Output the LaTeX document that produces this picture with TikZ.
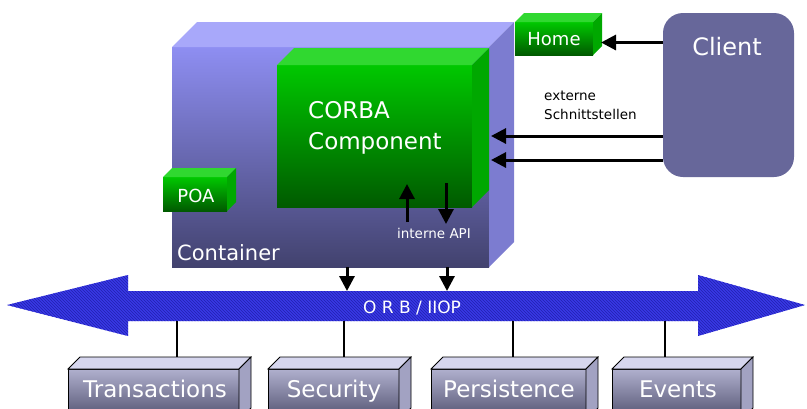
\documentclass[tikz,border=0pt]{standalone}
\usepackage{fontspec}
\setmainfont{DejaVu Sans}
\usetikzlibrary{arrows.meta,patterns}
\definecolor{contT}{HTML}{8E8EF2}
\definecolor{contB}{HTML}{42426E}
\definecolor{contTop}{HTML}{A8A8FA}
\definecolor{contSide}{HTML}{7C7CD0}
\definecolor{grT}{HTML}{00C800}
\definecolor{grB}{HTML}{005A00}
\definecolor{grTop}{HTML}{30D830}
\definecolor{grSide}{HTML}{00A800}
\definecolor{clientc}{HTML}{67679A}
\definecolor{svT}{HTML}{B0B0CE}
\definecolor{svB}{HTML}{50506E}
\definecolor{svTop}{HTML}{D6D6EE}
\definecolor{svSide}{HTML}{A2A2C2}
\definecolor{orbc}{HTML}{3838E6}
\definecolor{orbd}{HTML}{2222B0}
\newcommand\cubefaces[4]{%
  \path[#3] (#1.north west) -- ++(#2,-#2) -- ([shift={(#2,-#2)}]#1.north east) -- (#1.north east) -- cycle;
  \path[#4] (#1.north east) -- ++(#2,-#2) -- ([shift={(#2,-#2)}]#1.south east) -- (#1.south east) -- cycle;
}
\tikzset{
  front/.style={inner sep=0pt,outer sep=0pt},
  green/.style={front,top color=grT,bottom color=grB},
  svc/.style={front,top color=svT,bottom color=svB,draw=black,line width=0.8pt},
  wtxt/.style={text=white,inner sep=0pt},
  btxt/.style={text=black,inner sep=0pt},
  arr/.style={line width=3pt,-{Triangle[length=15pt,width=15pt]}},
  vline/.style={line width=2.8pt},
}
\begin{document}
\begin{tikzpicture}[x=1pt,y=-1pt]
\useasboundingbox (0,0) rectangle (807,408);
\clip (0,0) rectangle (807,408);
% ORB band
\path[fill=orbc] (7,305) -- (128,275) -- (128,291) -- (698,291) -- (698,275) -- (805,305) -- (698,336) -- (698,321) -- (128,321) -- (128,336) -- cycle;
\path[pattern=north west lines,pattern color=orbd] (7,305) -- (128,275) -- (128,291) -- (698,291) -- (698,275) -- (805,305) -- (698,336) -- (698,321) -- (128,321) -- (128,336) -- cycle;
\node[wtxt,anchor=base,font=\fontsize{17}{20}\selectfont] (orb) at (412,313) {O R B / IIOP};
\coordinate (orbtopA) at (347,291);
\coordinate (orbtopB) at (447,291);
\coordinate (orbbotA) at (177,321);
\coordinate (orbbotB) at (344,321);
\coordinate (orbbotC) at (513,321);
\coordinate (orbbotD) at (665,321);
% Container
\node[front,minimum width=317pt,minimum height=220pt,top color=contT,bottom color=contB] (cont) at (330.5,157) {};
\cubefaces{cont}{25}{fill=contTop}{fill=contSide}
\node[wtxt,anchor=base west,font=\fontsize{21}{24}\selectfont] (contlbl) at (177,260) {Container};
% Component
\node[green,minimum width=195pt,minimum height=142pt] (comp) at (374.5,136) {};
\cubefaces{comp}{17}{fill=grTop}{fill=grSide}
\node[wtxt,anchor=base west,font=\fontsize{23}{27}\selectfont] (corba) at (308,118) {CORBA};
\node[wtxt,anchor=base west,font=\fontsize{23}{27}\selectfont] (compo) at (308,149) {Component};
% POA
\node[green,minimum width=64pt,minimum height=34pt] (poa) at (195,194) {};
\cubefaces{poa}{9}{fill=grTop}{fill=grSide}
\node[wtxt,anchor=base,font=\fontsize{18}{21}\selectfont] (poalbl) at (196,202) {POA};
% Home
\node[green,minimum width=78pt,minimum height=33pt] (home) at (554,38.5) {};
\cubefaces{home}{9}{fill=grTop}{fill=grSide}
\node[wtxt,anchor=base,font=\fontsize{18}{21}\selectfont] (homelbl) at (554,45) {Home};
% Client
\node[front,fill=clientc,rounded corners=20pt,minimum width=131pt,minimum height=164pt] (client) at (728.5,95) {};
\node[wtxt,anchor=base,font=\fontsize{24}{28}\selectfont] (clientlbl) at (727,55) {Client};
% external labels
\node[btxt,anchor=base west,font=\fontsize{13.5}{16}\selectfont] (ext1) at (544,100) {externe};
\node[btxt,anchor=base west,font=\fontsize{13.5}{16}\selectfont] (ext2) at (544,119) {Schnittstellen};
% internal API
\node[wtxt,anchor=base,font=\fontsize{13.5}{16}\selectfont] (api) at (434,238) {interne API};
\coordinate (apiUpS) at (407,222);
\coordinate (apiUpE) at (407,184);
\coordinate (apiDnS) at (446,183);
\coordinate (apiDnE) at (446,224);
\draw[arr] (apiUpS) -- (apiUpE);
\draw[arr] (apiDnS) -- (apiDnE);
% client arrows
\coordinate (homeside) at ([shift={(8,4)}]home.east);
\draw[arr] (client.west |- homeside) -- (homeside);
\coordinate (compside1) at ([xshift=19pt]comp.east);
\coordinate (compside2) at ([shift={(19,24)}]comp.east);
\draw[arr] (client.west |- compside1) -- (compside1);
\draw[arr] (client.west |- compside2) -- (compside2);
% container to ORB
\draw[arr] (orbtopA |- cont.south) -- (orbtopA);
\draw[arr] (orbtopB |- cont.south) -- (orbtopB);
% Services
\node[svc,minimum width=171pt,minimum height=51pt] (trans) at (153.5,394.5) {};
\cubefaces{trans}{12}{fill=svTop,draw=black,line width=0.8pt}{fill=svSide,draw=black,line width=0.8pt}
\node[svc,minimum width=131pt,minimum height=51pt] (secu) at (333.5,394.5) {};
\cubefaces{secu}{12}{fill=svTop,draw=black,line width=0.8pt}{fill=svSide,draw=black,line width=0.8pt}
\node[svc,minimum width=155pt,minimum height=51pt] (pers) at (508.5,394.5) {};
\cubefaces{pers}{12}{fill=svTop,draw=black,line width=0.8pt}{fill=svSide,draw=black,line width=0.8pt}
\node[svc,minimum width=129pt,minimum height=51pt] (evts) at (676.5,394.5) {};
\cubefaces{evts}{12}{fill=svTop,draw=black,line width=0.8pt}{fill=svSide,draw=black,line width=0.8pt}
\node[wtxt,anchor=base,font=\fontsize{23}{27}\selectfont] (translbl) at (155,397) {Transactions};
\node[wtxt,anchor=base,font=\fontsize{23}{27}\selectfont] (seculbl) at (334,397) {Security};
\node[wtxt,anchor=base,font=\fontsize{23}{27}\selectfont] (perslbl) at (509,397) {Persistence};
\node[wtxt,anchor=base,font=\fontsize{23}{27}\selectfont] (evtslbl) at (678,397) {Events};
\coordinate (transtop) at ([yshift=12pt]trans.north);
\draw[vline] (orbbotA) -- (orbbotA |- transtop);
\draw[vline] (orbbotB) -- (orbbotB |- transtop);
\draw[vline] (orbbotC) -- (orbbotC |- transtop);
\draw[vline] (orbbotD) -- (orbbotD |- transtop);
\end{tikzpicture}
\end{document}
